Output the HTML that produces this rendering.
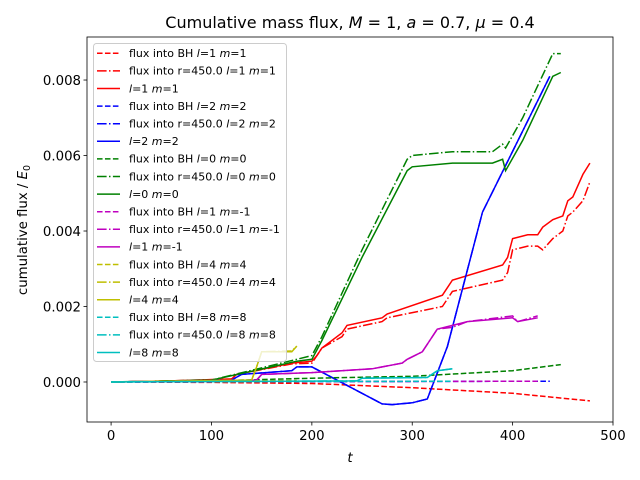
<!DOCTYPE html>
<html><head><meta charset="utf-8"><style>body{margin:0;background:#fff}svg{display:block;font-family:"DejaVu Sans","Liberation Sans",sans-serif}</style></head>
<body>
<svg id="chart" width="640" height="480"></svg>
<script>
// ---- data ----
const xTicks=[0,100,200,300,400,500];
const yTicks=[0,0.002,0.004,0.006,0.008];
const yTickLabels=["0.000","0.002","0.004","0.006","0.008"];
// l=1 m=1
const tR=[0,60,120,125,180,200,205,210,230,235,270,275,330,340,390,395,400,415,425,430,440,450,455,460,470,477];
const redSolid=[0,0.00003,0.00008,0.0002,0.0005,0.00055,0.0007,0.0009,0.0013,0.0015,0.0017,0.0018,0.0023,0.0027,0.0031,0.0033,0.0038,0.0039,0.0039,0.0041,0.0043,0.0044,0.0048,0.0049,0.0055,0.0058];
const redDashDot=[0,0.00003,0.00008,0.0002,0.00048,0.0005,0.0007,0.0009,0.0012,0.0014,0.0016,0.0017,0.0020,0.0024,0.0027,0.0029,0.0035,0.0036,0.0036,0.0035,0.0038,0.0040,0.0044,0.0045,0.0048,0.0053];
const tRb=[0,100,200,300,400,477];
const redDashed=[0,-0.00001,-0.00004,-0.00015,-0.0003,-0.0005];
// l=2 m=2
const tB=[0,120,130,180,185,200,270,280,300,315,335,370,437];
const blueSolid=[0,0.00005,0.0002,0.0003,0.0004,0.0004,-0.00058,-0.0006,-0.00055,-0.00045,0.00094,0.0045,0.0081];
const blueDashDot=[0,0.00005,0.0002,0.0003,0.0004,0.0004,-0.00058,-0.0006,-0.00055,-0.00045,0.00094,0.0045,0.0081];
const tBb=[0,437];
const blueDashed=[0,0.00002];
// l=0 m=0
const tG=[0,100,185,200,210,250,295,300,340,380,390,393,410,440,448];
const greenDashDot=[0,0.00005,0.0006,0.0007,0.0012,0.0035,0.0059,0.0060,0.0061,0.0061,0.0063,0.0062,0.0070,0.0087,0.0087];
const greenSolid=[0,0.00005,0.00055,0.0006,0.0011,0.0033,0.0056,0.0057,0.0058,0.0058,0.0059,0.0056,0.0064,0.0081,0.0082];
const tGb=[0,100,200,300,400,448];
const greenDashed=[0,0.00003,0.0001,0.00015,0.0003,0.00046];
// l=1 m=-1
const tM=[0,145,150,200,260,290,295,310,325,340,355,400,405,425];
const magentaSolid=[0,0.00005,0.0002,0.00025,0.00035,0.0005,0.0006,0.0008,0.0014,0.0015,0.0016,0.0017,0.0016,0.0017];
const magentaDashDot=[0,0.00005,0.0002,0.00025,0.00035,0.0005,0.0006,0.0008,0.0014,0.00145,0.0016,0.00175,0.0016,0.00175];
const tMb=[0,425];
const magentaDashed=[0,0.00002];
// l=4 m=4
const tY=[0,140,145,150,180,185];
const yellowSolid=[0,0.00005,0.0004,0.0008,0.0008,0.00095];
const yellowDashDot=[0,0.00005,0.0004,0.0008,0.00082,0.00095];
const tYb=[0,185];
const yellowDashed=[0,0.00004];
// l=8 m=8
const tC=[0,245,250,315,325,340];
const cyanSolid=[0,0.00003,0.0001,0.00012,0.0003,0.00035];
const cyanDashDot=[0,0.00003,0.0001,0.00012,0.0003,0.00035];
const tCb=[0,340];
const cyanDashed=[0,0.00002];

// ---- axes ----
const L=87,R=613,T=37,B=422;
const xMin=-24,xMax=500,yMin=-0.00106,yMax=0.00914;
const sx=t=>L+(t-xMin)/(xMax-xMin)*(R-L);
const sy=v=>B-(v-yMin)/(yMax-yMin)*(B-T);
const NS="http://www.w3.org/2000/svg";
const svg=document.getElementById('chart');
function mk(tag,attrs,parent){const e=document.createElementNS(NS,tag);for(const k in attrs)e.setAttribute(k,attrs[k]);(parent||svg).appendChild(e);return e;}
const DASH="5.55,2.4",DD="9.6,2.4,1.5,2.4";
const series=[
 ["red-dashed-bh-l1",tRb,redDashed,"#ff0000",DASH],["red-dashdot-r450-l1",tR,redDashDot,"#ff0000",DD],["red-solid-l1",tR,redSolid,"#ff0000",""],
 ["blue-dashed-bh-l2",tBb,blueDashed,"#0000ff",DASH],["blue-dashdot-r450-l2",tB,blueDashDot,"#0000ff",DD],["blue-solid-l2",tB,blueSolid,"#0000ff",""],
 ["green-dashed-bh-l0",tGb,greenDashed,"#008000",DASH],["green-dashdot-r450-l0",tG,greenDashDot,"#008000",DD],["green-solid-l0",tG,greenSolid,"#008000",""],
 ["magenta-dashed-bh-l1m-1",tMb,magentaDashed,"#bf00bf",DASH],["magenta-dashdot-r450-l1m-1",tM,magentaDashDot,"#bf00bf",DD],["magenta-solid-l1m-1",tM,magentaSolid,"#bf00bf",""],
 ["yellow-dashed-bh-l4",tYb,yellowDashed,"#bfbf00",DASH],["yellow-dashdot-r450-l4",tY,yellowDashDot,"#bfbf00",DD],["yellow-solid-l4",tY,yellowSolid,"#bfbf00",""],
 ["cyan-dashed-bh-l8",tCb,cyanDashed,"#00bfbf",DASH],["cyan-dashdot-r450-l8",tC,cyanDashDot,"#00bfbf",DD],["cyan-solid-l8",tC,cyanSolid,"#00bfbf",""]
];
const g=mk('g',{});


series.forEach(s=>{
 const d=s[1].map((t,i)=>(i?'L':'M')+sx(t).toFixed(1)+','+sy(s[2][i]).toFixed(1)).join(' ');
 const p=mk('path',{d:d,fill:'none',stroke:s[3],'stroke-width':1.5,'stroke-dasharray':s[4]||'none'},g);
 
 
});
const frame=mk('rect',{x:L,y:T,width:R-L,height:B-T,fill:'none',stroke:'#000','stroke-width':0.8});


xTicks.forEach(t=>{
 const x=sx(t);
 const tk=mk('line',{x1:x,x2:x,y1:B,y2:B+3.5,stroke:'#000','stroke-width':0.8});
 
 
 const tx=mk('text',{x:x,y:B+18,'font-size':13.3,'text-anchor':'middle'});
 tx.textContent=String(t);
 
 
});
yTicks.forEach((v,i)=>{
 const y=sy(v);
 const tk=mk('line',{x1:L-3.5,x2:L,y1:y,y2:y,stroke:'#000','stroke-width':0.8});
 
 
 const tx=mk('text',{x:L-6,y:y+5,'font-size':13.3,'text-anchor':'end'});
 tx.textContent=yTickLabels[i];
 
 
});
// legend
const lg=mk('g',{});


mk('rect',{x:93.5,y:43.5,width:193,height:318,rx:3,fill:'#fff','fill-opacity':0.8,stroke:'#cccccc','stroke-width':1},lg);
const labels=[
 ['flux into BH ','1','1'],['flux into r=450.0 ','1','1'],['','1','1'],
 ['flux into BH ','2','2'],['flux into r=450.0 ','2','2'],['','2','2'],
 ['flux into BH ','0','0'],['flux into r=450.0 ','0','0'],['','0','0'],
 ['flux into BH ','1','-1'],['flux into r=450.0 ','1','-1'],['','1','-1'],
 ['flux into BH ','4','4'],['flux into r=450.0 ','4','4'],['','4','4'],
 ['flux into BH ','8','8'],['flux into r=450.0 ','8','8'],['','8','8']];
labels.forEach((lb,i)=>{
 const y=53.3+i*17.6;const s=series[i];
 const e=mk('g',{},lg);
 
 
 mk('line',{x1:97,x2:120,y1:y,y2:y,stroke:s[3],'stroke-width':1.5,'stroke-dasharray':s[4]||'none'},e);
 const t=mk('text',{x:129,y:y+3.8,'font-size':11},e);
 t.innerHTML=lb[0]+'<tspan font-style="italic">l</tspan>='+lb[1]+' <tspan font-style="italic">m</tspan>='+lb[2];
});
const title=mk('text',{x:350,y:28,'font-size':16,'text-anchor':'middle'});
title.innerHTML='Cumulative mass flux, <tspan font-style="italic">M</tspan> = 1, <tspan font-style="italic">a</tspan> = 0.7, <tspan font-style="italic">μ</tspan> = 0.4';


const xl=mk('text',{x:350,y:462,'font-size':13.3,'text-anchor':'middle','font-style':'italic'});
xl.textContent='t';


const yl=mk('text',{x:0,y:0,'font-size':13.3,'text-anchor':'middle',transform:'translate(27,230) rotate(-90)'});
yl.innerHTML='cumulative flux / <tspan font-style="italic">E</tspan><tspan font-size="9.5" dy="3">0</tspan>';


</script>
</body></html>
